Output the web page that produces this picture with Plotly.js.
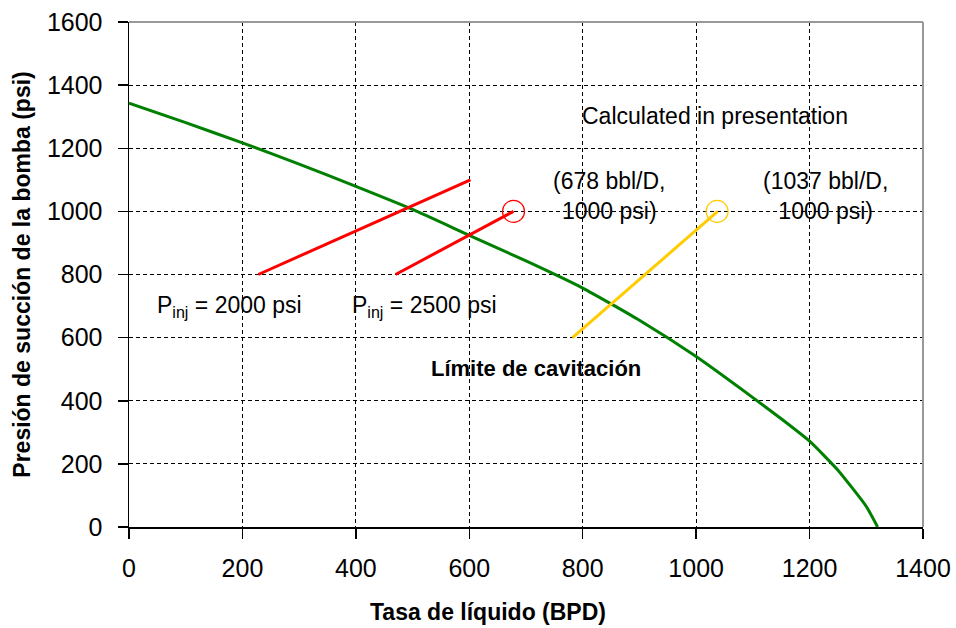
<!DOCTYPE html>
<html>
<head>
<meta charset="utf-8">
<script src="https://cdn.plot.ly/plotly-3.0.1.min.js"></script>
<style>html,body{margin:0;padding:0;background:#fff;}#chart{width:956px;height:628px;}</style>
</head>
<body>
<div id="chart"></div>
<script>
// Curva límite de cavitación
const cavX = [0, 100, 200, 300, 400, 500, 600, 700, 800, 900, 1000, 1100, 1150, 1200, 1250, 1300, 1320];
const cavY = [1343, 1281, 1217, 1150, 1079, 1006, 924, 843, 757, 655, 540, 410, 343, 272, 180, 65, 0];
// Pinj = 2000 psi
const p2000X = [228, 602];
const p2000Y = [800, 1100];
// Pinj = 2500 psi
const p2500X = [470, 678];
const p2500Y = [800, 1000];
// Calculated in presentation
const calcX = [782, 1038];
const calcY = [600, 1000];
// Operating points
const redPtX = [678];
const redPtY = [1000];
const yelPtX = [1037];
const yelPtY = [1000];

const FONT = 'Liberation Sans, Arial, sans-serif';

const traces = [
  {x: cavX, y: cavY, mode: 'lines', line: {color: '#008000', width: 3, shape: 'spline', smoothing: 0.5}, hoverinfo: 'skip'},
  {x: p2000X, y: p2000Y, mode: 'lines', line: {color: '#FF0000', width: 3}, hoverinfo: 'skip'},
  {x: p2500X, y: p2500Y, mode: 'lines', line: {color: '#FF0000', width: 3}, hoverinfo: 'skip'},
  {x: calcX, y: calcY, mode: 'lines', line: {color: '#FFCC00', width: 3}, hoverinfo: 'skip'},
  {x: redPtX, y: redPtY, mode: 'markers', marker: {symbol: 'circle-open', size: 22, color: '#FF0000', line: {color: '#FF0000', width: 1.2}}, hoverinfo: 'skip'},
  {x: yelPtX, y: yelPtY, mode: 'markers', marker: {symbol: 'circle-open', size: 22, color: '#FFCC00', line: {color: '#FFCC00', width: 1.2}}, hoverinfo: 'skip'}
];

const axisCommon = {
  showgrid: true, gridcolor: '#000', gridwidth: 1, griddash: '4px,3px',
  showline: true, linecolor: '#000', linewidth: 1.5,
  ticks: 'outside', ticklen: 10, tickcolor: '#000', tickwidth: 1.5,
  tickfont: {family: FONT, size: 25, color: '#000'},
  zeroline: false, dtick: 200, tick0: 0, fixedrange: true
};

const layout = {
  width: 956, height: 628,
  margin: {l: 129, r: 33, t: 22, b: 101},
  paper_bgcolor: '#fff', plot_bgcolor: '#fff',
  showlegend: false,
  font: {family: FONT, color: '#000'},
  xaxis: Object.assign({}, axisCommon, {
    range: [0, 1400], ticklabelstandoff: 8
  }),
  yaxis: Object.assign({}, axisCommon, {
    range: [0, 1600], ticklabelstandoff: 10,
    title: {text: 'Presión de succión de la bomba (psi)', font: {family: FONT, size: 23, weight: 'bold', color: '#000'}, standoff: 10}
  }),
  shapes: [
    {type: 'line', xref: 'paper', yref: 'paper', x0: 0, x1: 1, y0: 1, y1: 1, line: {color: '#999', width: 2}, layer: 'above'},
    {type: 'line', xref: 'paper', yref: 'paper', x0: 1, x1: 1, y0: 0, y1: 1, line: {color: '#999', width: 2}, layer: 'above'}
  ],
  annotations: [
    {x: 0.452, y: -0.168, xref: 'paper', yref: 'paper', xanchor: 'center', yanchor: 'middle', text: 'Tasa de líquido (BPD)', showarrow: false, font: {family: FONT, size: 23, weight: 'bold', color: '#000'}},
    {x: 1033, y: 1302, xref: 'x', yref: 'y', text: 'Calculated in presentation', showarrow: false, font: {family: FONT, size: 23, color: '#000'}},
    {x: 848, y: 1050, xref: 'x', yref: 'y', text: '(678 bbl/D,<br>1000 psi)', showarrow: false, font: {family: FONT, size: 23, color: '#000'}},
    {x: 1228, y: 1050, xref: 'x', yref: 'y', text: '(1037 bbl/D,<br>1000 psi)', showarrow: false, font: {family: FONT, size: 23, color: '#000'}},
    {x: 717, y: 501, xref: 'x', yref: 'y', text: 'Límite de cavitación', showarrow: false, font: {family: FONT, size: 22, weight: 'bold', color: '#000'}},
    {x: 178, y: 698, xref: 'x', yref: 'y', text: 'P<sub>inj</sub> = 2000 psi', showarrow: false, font: {family: FONT, size: 23, color: '#000'}},
    {x: 521, y: 698, xref: 'x', yref: 'y', text: 'P<sub>inj</sub> = 2500 psi', showarrow: false, font: {family: FONT, size: 23, color: '#000'}}
  ]
};

Plotly.newPlot('chart', traces, layout, {staticPlot: true, displayModeBar: false});
</script>
</body>
</html>
